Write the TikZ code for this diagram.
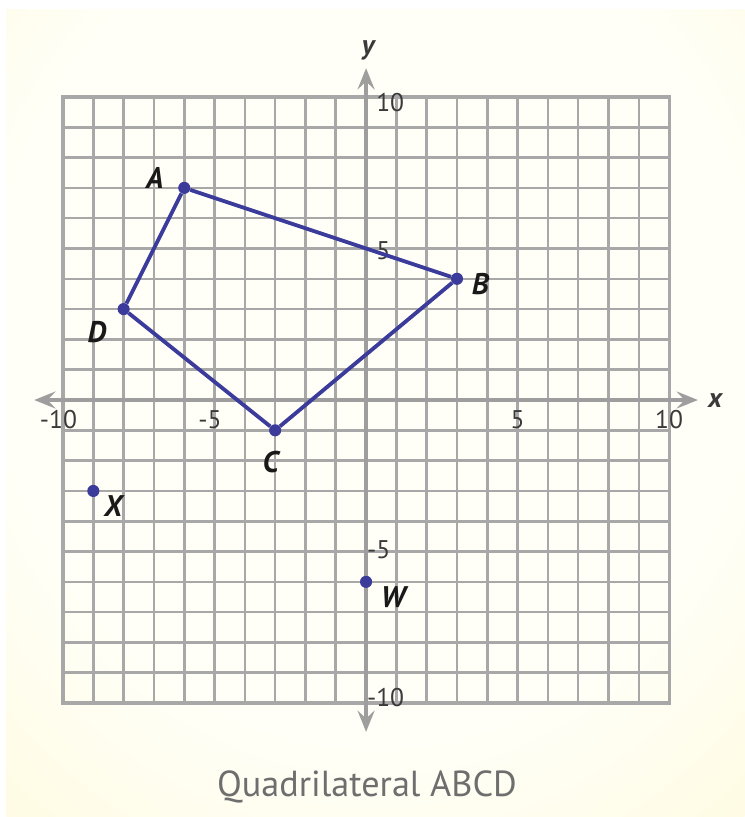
\documentclass[tikz,border=0pt]{standalone}
\usepackage{fontspec}
\setmainfont{PT Sans}
\usetikzlibrary{arrows.meta}

\definecolor{quadblue}{HTML}{3B3B9C}
\definecolor{gridgray}{HTML}{A8A8A8}
\definecolor{axisgray}{HTML}{9E9E9E}
\definecolor{ticktext}{HTML}{3A3A3A}
\definecolor{captiongray}{HTML}{6E6E6E}
\definecolor{glowin}{HTML}{FFFFF7}
\definecolor{glowout}{HTML}{FEF6C8}
\pgfdeclareradialshading{bgglow}{\pgfpoint{0bp}{8bp}}{color(0bp)=(glowin); color(26bp)=(glowin); color(56bp)=(glowout); color(80bp)=(glowout)}

\begin{document}
\begin{tikzpicture}[
    gridline/.style={draw=gridgray, line width=2.4pt},
    axisline/.style={
        draw=axisgray,
        line width=3.2pt,
        {Stealth[length=7mm,width=5.6mm,inset=2.6mm]}-{Stealth[length=7mm,width=5.6mm,inset=2.6mm]},
    },
    ticklabel/.style={
        text=ticktext,
        inner sep=0pt,
        font=\fontsize{24}{26}\selectfont,
    },
    axislabel/.style={
        text=ticktext,
        inner sep=0pt,
        anchor=base,
        font=\fontsize{26}{28}\selectfont\bfseries\itshape,
    },
    dot/.style={
        circle,
        fill=quadblue,
        minimum size=4mm,
        inner sep=0pt,
    },
    ptname/.style={
        anchor=center,
        inner sep=0pt,
        text=black!90,
        font=\fontsize{28}{30}\selectfont\bfseries\itshape,
    },
    side/.style={draw=quadblue, line width=3.6pt, line join=round},
    caption/.style={
        text=captiongray,
        font=\fontsize{34}{36}\selectfont,
    },
    ]
    \useasboundingbox (-12.08,-13.76) rectangle (12.48,13.2);
    \shade[shading=bgglow] (-11.86,-13.73) rectangle (12.48,12.89);

    % grid and axes
    \draw[gridline] (-10,-10) grid (10,10);
    \draw[gridline, line width=3pt] (-10,-10) rectangle (10,10);
    \draw[axisline] (-10.95,0) -- (10.95,0);
    \draw[axisline] (0,-10.95) -- (0,10.95);
    \node[axislabel] (xname) at (11.52,-0.26) {x};
    \node[axislabel] (yname) at (0.07,11.39) {y};

    \foreach \v in {-10,-5,5,10}
        \node[ticklabel] (xt\v) at (\v,-0.66) {\ifnum\v<0 \llap{-}\number-\v\else\v\fi};
    \foreach \v/\h in {10/9.83,5/4.93,-5/-4.95,-10/-9.83}
        \node[ticklabel, anchor=west] (yt\v) at (0.33,\h) {\ifnum\v<0 \llap{-}\number-\v\else\v\fi};

    % points
    \node[dot, label={[ptname, label distance=8.2mm]161:A}] (A) at (-6,7) {};
    \node[dot, label={[ptname, label distance=5.8mm]347:B}] (B) at (3,4) {};
    \node[dot, label={[ptname, label distance=8.6mm]262:C}] (C) at (-3,-1) {};
    \node[dot, label={[ptname, label distance=9.6mm]221:D}] (D) at (-8,3) {};
    \node[dot, label={[ptname, label distance=6.2mm]322:X}] (X) at (-9,-3) {};
    \node[dot, label={[ptname, label distance=8.2mm]331:W}] (W) at (0,-6) {};

    \draw[side] (A) -- (B) -- (C) -- (D) -- (A);

    \node[caption] (title) at (0.03,-12.77) {Quadrilateral ABCD};
\end{tikzpicture}
\end{document}
